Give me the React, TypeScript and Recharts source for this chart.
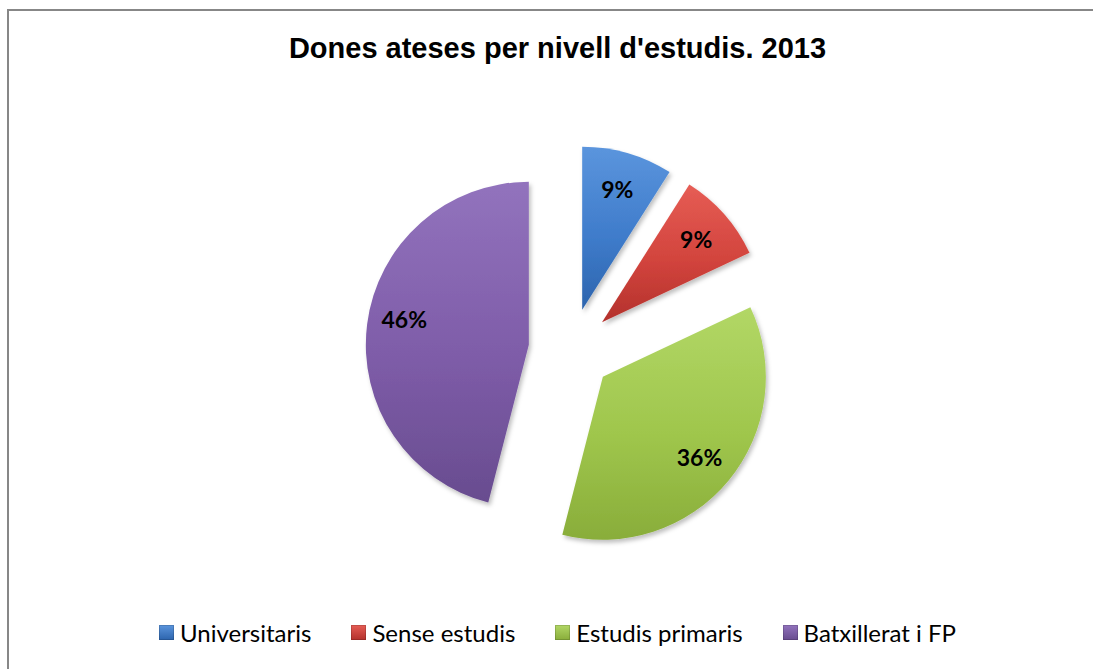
import { PieChart, Pie, Cell, Sector, Legend } from 'recharts';

// Dones ateses per nivell d'estudis (2013), percentatges
const categories = ['Universitaris', 'Sense estudis', 'Estudis primaris', 'Batxillerat i FP'];
const percentages = [9, 9, 36, 46];

const colors = ['#3f7ccb', '#d2443d', '#9fc64c', '#7e5ca8'];
const lightColors = ['#5b95dd', '#e65d55', '#b2d766', '#9273bd'];
const darkColors = ['#2c64ad', '#b3312c', '#89ad3a', '#684c8f'];

const data = categories.map((name, i) => ({ name, value: percentages[i] }));

const RADIAN = Math.PI / 180;
const EXPLODE = 42;
const RADIUS = 163;

const ExplodedSlice = (props: any) => {
  const { cx, cy, midAngle } = props;
  const dx = EXPLODE * Math.cos(-midAngle * RADIAN);
  const dy = EXPLODE * Math.sin(-midAngle * RADIAN);
  return <Sector {...props} cx={cx + dx} cy={cy + dy} />;
};

const renderLabel = ({ cx, cy, midAngle, percent }: any) => {
  const r = EXPLODE + RADIUS * 0.77;
  const x = cx + r * Math.cos(-midAngle * RADIAN);
  // l'etiqueta gran de l'esquerra queda una mica més amunt a l'original
  const y = cy + r * Math.sin(-midAngle * RADIAN) - (percent > 0.4 ? 10 : 0);
  return (
    <text
      x={x}
      y={y}
      textAnchor="middle"
      dominantBaseline="central"
      fill="#000"
      fontFamily="Lato, sans-serif"
      fontWeight={700}
      fontSize={23}
    >
      {Math.round(percent * 100)}%
    </text>
  );
};

const LegendContent = () => (
  <div style={{ display: 'flex', justifyContent: 'center', gap: 40, fontFamily: 'Lato, sans-serif', fontSize: 24, color: '#000' }}>
    {categories.map((c, i) => (
      <div key={c} style={{ display: 'flex', alignItems: 'center' }}>
        <span
          style={{
            display: 'inline-block',
            width: 15,
            height: 15,
            marginRight: 6,
            background: `linear-gradient(180deg, ${lightColors[i]}, ${darkColors[i]})`,
            boxShadow: 'inset 0 0 0 1px rgba(0,0,0,0.15)',
          }}
        />
        {c}
      </div>
    ))}
  </div>
);

export default function App() {
  return (
    <div style={{ position: 'absolute', left: 0, top: 0, width: 1093, height: 669, background: '#fff', overflow: 'hidden' }}>
      {/* vora del gràfic (retallada a dreta i a baix) */}
      <div
        style={{
          position: 'absolute',
          left: 7,
          top: 9,
          width: 1200,
          height: 800,
          borderTop: '2px solid #878787',
          borderLeft: '2px solid #878787',
        }}
      />
      <div
        style={{
          position: 'absolute',
          left: 0,
          top: 32,
          width: 1115,
          textAlign: 'center',
          fontFamily: '"Liberation Sans", Arial, sans-serif',
          fontWeight: 700,
          fontSize: 29,
          lineHeight: '32px',
          color: '#000',
        }}
      >
        Dones ateses per nivell d'estudis. 2013
      </div>
      <PieChart width={1093} height={669} style={{ position: 'absolute', left: 0, top: 0 }}>
        <defs>
          {colors.map((c, i) => (
            <linearGradient key={c} id={`grad${i}`} x1="0" y1="0" x2="0" y2="1">
              <stop offset="0%" stopColor={lightColors[i]} />
              <stop offset="55%" stopColor={c} />
              <stop offset="100%" stopColor={darkColors[i]} />
            </linearGradient>
          ))}
          <filter id="shadow" x="-20%" y="-20%" width="140%" height="140%">
            <feDropShadow dx="2" dy="3" stdDeviation="2" floodColor="#000" floodOpacity="0.25" />
          </filter>
        </defs>
        <Pie
          data={data}
          dataKey="value"
          nameKey="name"
          cx={565.5}
          cy={345}
          outerRadius={RADIUS}
          startAngle={90}
          endAngle={-270}
          stroke="none"
          shape={ExplodedSlice}
          label={renderLabel}
          labelLine={false}
          isAnimationActive={false}
          style={{ filter: 'url(#shadow)' }}
        >
          {data.map((d, i) => (
            <Cell key={d.name} fill={`url(#grad${i})`} />
          ))}
        </Pie>
        <Legend
          content={<LegendContent />}
          wrapperStyle={{ position: 'absolute', left: 0, top: 618, width: 1115 }}
        />
      </PieChart>
    </div>
  );
}
